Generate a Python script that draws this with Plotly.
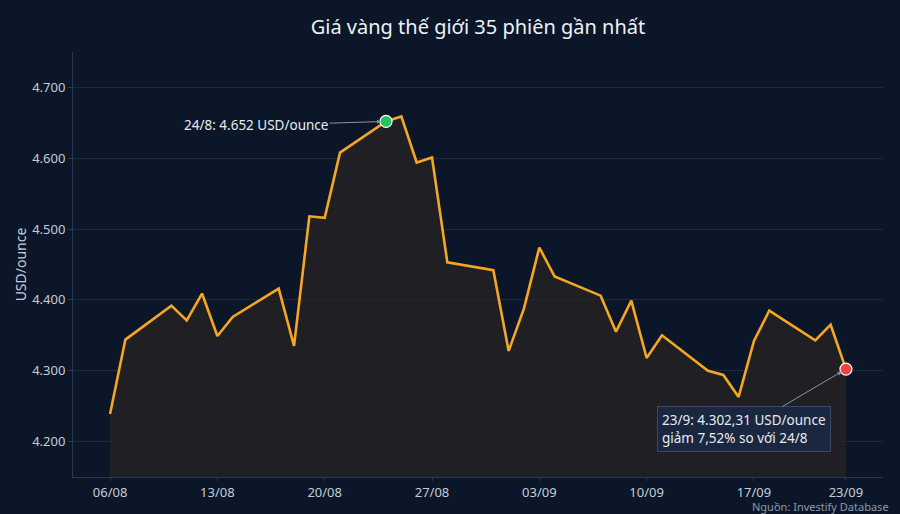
import plotly.graph_objects as go

dates = [
    "2026-08-06", "2026-08-07", "2026-08-10", "2026-08-11", "2026-08-12", "2026-08-13", "2026-08-14",
    "2026-08-17", "2026-08-18", "2026-08-19", "2026-08-20", "2026-08-21",
    "2026-08-24", "2026-08-25", "2026-08-26", "2026-08-27", "2026-08-28",
    "2026-08-31", "2026-09-01", "2026-09-02", "2026-09-03", "2026-09-04",
    "2026-09-07", "2026-09-08", "2026-09-09", "2026-09-10", "2026-09-11",
    "2026-09-14", "2026-09-15", "2026-09-16", "2026-09-17", "2026-09-18",
    "2026-09-21", "2026-09-22", "2026-09-23",
]
prices = [
    4239, 4344, 4392, 4371, 4409, 4349, 4376,
    4416, 4335, 4518, 4516, 4608,
    4652, 4659, 4594, 4601, 4453,
    4442, 4328, 4388, 4474, 4433,
    4406, 4355, 4399, 4318, 4350,
    4300, 4294, 4263, 4342, 4385,
    4343, 4365, 4302.31,
]
tick_vals = ["2026-08-06", "2026-08-13", "2026-08-20", "2026-08-27",
             "2026-09-03", "2026-09-10", "2026-09-17", "2026-09-23"]
tick_text = ["06/08", "13/08", "20/08", "27/08", "03/09", "10/09", "17/09", "23/09"]

peak_date, peak_price = "2026-08-24", 4652
last_date, last_price = "2026-09-23", 4302.31
peak_label = "24/8: 4.652 USD/ounce"
last_label = "23/9: 4.302,31 USD/ounce<br>giảm 7,52% so với 24/8"
title_text = "Giá vàng thế giới 35 phiên gần nhất"
source_text = "Nguồn: Investify Database"

BG = "#0b1728"
FONT = "Noto Sans"

fig = go.Figure()
fig.add_trace(go.Scatter(
    x=dates, y=prices, mode="lines",
    line=dict(color="#f5a623", width=2.6),
    fill="tozeroy", fillcolor="rgba(40,36,34,0.72)",
    hoverinfo="skip", showlegend=False,
))
fig.add_trace(go.Scatter(
    x=[peak_date], y=[peak_price], mode="markers",
    marker=dict(color="#22c55e", size=12, line=dict(color="white", width=1.2)),
    showlegend=False, hoverinfo="skip",
))
fig.add_trace(go.Scatter(
    x=[last_date], y=[last_price], mode="markers",
    marker=dict(color="#ef4444", size=12, line=dict(color="white", width=1.2)),
    showlegend=False, hoverinfo="skip",
))

fig.add_annotation(
    x=peak_date, y=peak_price, xref="x", yref="y",
    text=peak_label, showarrow=True, arrowhead=2, arrowsize=0.8, arrowwidth=1,
    arrowcolor="#8a94a6", ax=-130, ay=4, standoff=5,
    font=dict(family=FONT, size=13.5, color="#e6eaf0"),
)
fig.add_annotation(
    x=last_date, y=last_price, xref="x", yref="y",
    text=last_label, showarrow=True, arrowhead=2, arrowsize=0.8, arrowwidth=1,
    arrowcolor="#8a94a6", ax=-102, ay=60, standoff=5,
    align="left", bgcolor="#1a2740", bordercolor="#3a4a66", borderwidth=1, borderpad=4,
    font=dict(family=FONT, size=13.5, color="#e6eaf0"),
)
fig.add_annotation(
    x=1, y=0, xref="paper", yref="paper", xanchor="right", yanchor="top",
    xshift=8, yshift=-20,
    text=source_text, showarrow=False,
    font=dict(family=FONT, size=11, color="#8d99ab"),
)

fig.update_layout(
    width=900, height=514,
    paper_bgcolor=BG, plot_bgcolor=BG,
    margin=dict(l=73, r=17, t=52, b=37),
    separators=",.",
    font=dict(family=FONT, size=13, color="#c5ccd8"),
    title=dict(text=title_text, x=0.5, xref="paper", xanchor="center", y=0.948, yanchor="middle",
               font=dict(family=FONT, size=20, color="#eef1f6")),
    xaxis=dict(
        type="date", range=["2026-08-03 14:00", "2026-09-25 10:00"],
        tickvals=tick_vals, ticktext=tick_text,
        showgrid=False, showline=True, linecolor="#2a3850", linewidth=1,
        ticks="outside", ticklen=3, tickcolor="#2a3850",
        tickfont=dict(family=FONT, size=13, color="#c5ccd8"), zeroline=False,
    ),
    yaxis=dict(
        range=[4150, 4750], tickvals=[4200, 4300, 4400, 4500, 4600, 4700],
        tickformat=",.0f",
        showgrid=True, gridcolor="#1c2a3e", gridwidth=1,
        showline=True, linecolor="#2a3850", linewidth=1,
        ticks="outside", ticklen=4, tickcolor="#2a3850",
        tickfont=dict(family=FONT, size=13, color="#c5ccd8"), zeroline=False,
        title=dict(text="USD/ounce", font=dict(family=FONT, size=14, color="#c5ccd8"), standoff=2),
    ),
)

fig.write_html(
    "out.html",
    config={"displayModeBar": False},
    post_script="document.body.style.margin='0';document.body.style.background='" + BG + "';",
)
